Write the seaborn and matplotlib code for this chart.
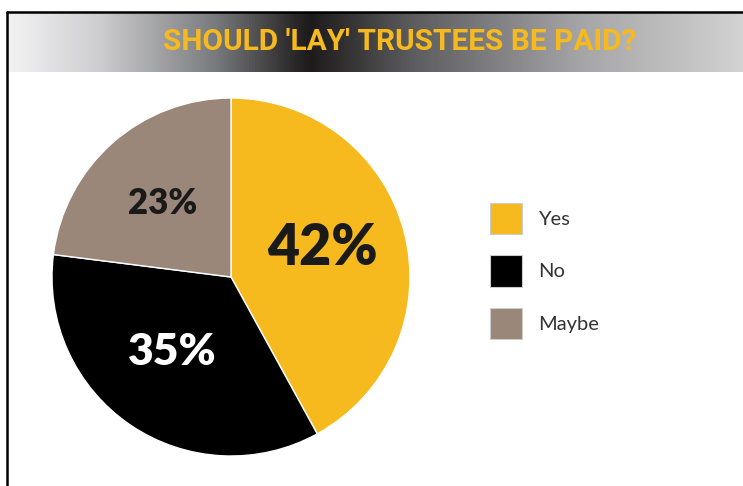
import numpy as np
import matplotlib
matplotlib.use("Agg")
import matplotlib.pyplot as plt
import seaborn as sns
from matplotlib.colors import LinearSegmentedColormap
from matplotlib.patches import Patch
from matplotlib.lines import Line2D

sns.set_style("white")

title = "SHOULD 'LAY' TRUSTEES BE PAID?"
categories = ["Yes", "No", "Maybe"]
values = [42, 35, 23]
colors = ["#F6BA1E", "#000000", "#9B877A"]
label_colors = ["#1a1a1a", "#ffffff", "#1a1a1a"]
label_sizes = [40, 32, 25]

W, H = 743, 486
fig = plt.figure(figsize=(W / 100, H / 100), dpi=100)
fig.patch.set_facecolor("white")

# border lines
fig.add_artist(Line2D([7 / W, 7 / W], [0, 1 - 12 / H], color="black", lw=1.8))
fig.add_artist(Line2D([7 / W, 1], [1 - 12 / H, 1 - 12 / H], color="black", lw=1.8))

# title bar with gradient
tax = fig.add_axes([8 / W, 1 - 72 / H, 1 - 8 / W, 59 / H])
cmap = LinearSegmentedColormap.from_list(
    "bar",
    [(0.0, "#f2f2f3"), (0.12, "#cfcfd1"), (0.28, "#7a7b7e"), (0.41, "#1c1a1a"),
     (0.55, "#5c5c5e"), (0.78, "#a5a5a7"), (1.0, "#d2d2d2")])
grad = np.linspace(0, 1, 512)[None, :]
tax.imshow(grad, aspect="auto", cmap=cmap, extent=[0, 1, 0, 1])
tax.set_axis_off()
tax.text((400 - 8) / (W - 8), 0.5, title, ha="center", va="center",
         color="#F6BA1E", fontsize=21.5, fontweight="bold",
         family=["Roboto", "DejaVu Sans"], transform=tax.transAxes)

# pie
cx, cy, r = 231, 277, 179
ax = fig.add_axes([(cx - r) / W, (H - cy - r) / H, 2 * r / W, 2 * r / H])
wedges, _ = ax.pie(values, colors=colors, startangle=90, counterclock=False,
                   radius=1, wedgeprops=dict(edgecolor="white", linewidth=1.0))
ax.set_xlim(-1, 1)
ax.set_ylim(-1, 1)
ax.set_aspect("equal")
ax.set_axis_off()

# percentage labels
label_pos = [(0.51, 0.16), (-0.33, -0.42), (-0.38, 0.41)]
for (lx, ly), v, c, s in zip(label_pos, values, label_colors, label_sizes):
    ax.text(lx, ly, f"{v}%", ha="center", va="center", color=c, fontsize=s,
            fontweight="heavy", family=["Lato", "DejaVu Sans"])

# legend
handles = [Patch(facecolor=col, edgecolor="#cccccc", linewidth=0.8) for col in colors]
leg = fig.legend(handles, categories, loc="upper left",
                 bbox_to_anchor=(472 / W, 1 - 185 / H), frameon=False,
                 handlelength=1.6, handleheight=2.0, handletextpad=0.8,
                 labelspacing=1.05, prop={"family": "Lato", "size": 14.5})
for t in leg.get_texts():
    t.set_color("#333333")

fig.savefig("out.png", dpi=100)
